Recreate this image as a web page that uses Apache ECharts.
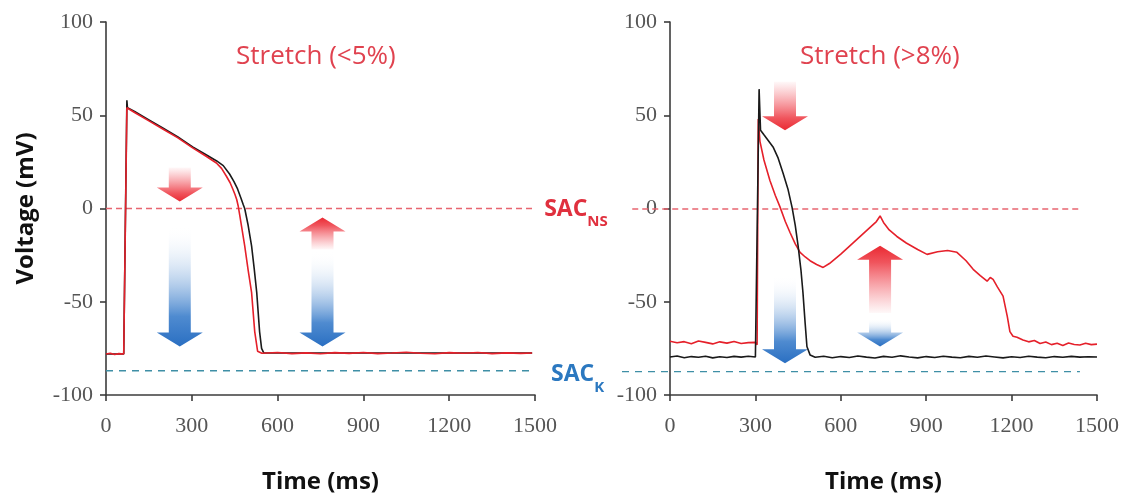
<!DOCTYPE html>
<html>
<head>
<meta charset="utf-8">
<script src="https://cdn.jsdelivr.net/npm/echarts@6/dist/echarts.min.js"></script>
<style>
html,body{margin:0;padding:0;background:#fff}
#main{width:1130px;height:499px}
</style>
</head>
<body>
<div id="main"></div>
<script>
// left panel - stretch <5%
var leftRedT = [0,15,30,45,62,73,100,150,200,250,303,350,386,404,421,434,444,451,457,462,468,474,485,497,509,520,530,545,600,650,700,750,800,850,900,950,1000,1050,1100,1150,1200,1250,1300,1350,1400,1450,1490];
var leftRedV = [-78,-77.6,-78.3,-77.8,-78,54,51.5,47,42.5,38,32.5,28,24.4,21.5,17.3,13.8,10.2,7.5,4.8,1.5,-4,-9.6,-20,-33,-45,-66,-76.5,-77.6,-77.2,-77.8,-77.4,-77.9,-77.3,-77.7,-77.2,-77.8,-77.5,-77.1,-77.6,-77.9,-77.3,-77.6,-77.2,-77.8,-77.4,-77.7,-77.5];
var leftBlackT = [0,30,62,73,75,100,150,200,250,303,350,387,410,432,447,460,472,480,485,497,509,518,527,537,544,552,650,800,950,1100,1250,1400,1490];
var leftBlackV = [-78,-78,-78,58,54,52,47.5,43,38.5,33,28.8,25.5,23,18.5,14.5,10.5,5.5,2,0,-9,-20,-32,-45,-66,-75,-77.5,-77.5,-77.5,-77.5,-77.5,-77.5,-77.5,-77.5];

// right panel - stretch >8%
var rightRedT = [0,25,50,75,100,125,150,175,200,225,250,275,300,306,310,316,330,351,370,386,405,422,440,457,475,492,515,538,560,600,650,700,725,738,750,770,797,830,870,903,940,975,1008,1040,1065,1090,1114,1125,1135,1150,1170,1185,1194,1205,1219,1240,1260,1280,1300,1320,1340,1360,1380,1400,1420,1440,1460,1480,1500];
var rightRedV = [-71.2,-72.0,-71.4,-72.5,-71.0,-71.8,-72.6,-71.5,-72.2,-71.3,-72.4,-71.9,-71.8,-73.0,48,36,26,15,7,1,-7,-13,-19,-23.5,-26,-28,-30,-31.6,-29.5,-24.5,-17.5,-10.5,-7,-4,-7.5,-11.5,-15,-18.5,-22,-24.6,-23.2,-22.5,-23.5,-28,-32.6,-36,-39,-37,-38,-42,-47,-58,-66,-68.5,-69,-70.5,-71.5,-70.8,-72.4,-71.6,-73,-72.2,-73.4,-72.1,-72.9,-73.2,-72.3,-73,-72.7];
var rightBlackT = [0,25,50,75,100,125,150,175,200,225,250,275,300,306,313,318,330,345,362,380,397,415,429,440,450,460,467,475,481,492,510,540,570,600,630,660,690,720,750,780,810,840,870,900,930,960,990,1020,1050,1080,1110,1140,1170,1200,1230,1260,1290,1320,1350,1380,1410,1440,1470,1500];
var rightBlackV = [-79.6,-79.1,-80.0,-79.4,-79.8,-79.2,-80.1,-79.5,-79.9,-79.3,-79.7,-79.2,-79.6,-79.8,64,42,39.5,36.5,33,27,19,10,0.5,-9,-20,-33,-45,-62,-74,-78.5,-79.8,-79.2,-80.0,-79.4,-79.9,-79.1,-79.7,-80.2,-79.3,-79.8,-79.0,-79.6,-80.1,-79.4,-79.9,-79.2,-79.7,-80.0,-79.3,-79.8,-79.1,-79.6,-80.1,-79.5,-79.9,-79.2,-79.7,-80.0,-79.4,-79.8,-79.3,-79.7,-79.5,-79.6];

// SAC reversal levels (mV) and where the dashed lines run (ms)
var sacNs = 0, sacK = -87;
var leftNsSpan = [0, 1490], leftKSpan = [0, 1500];
var rightNsSpan = [-133, 1440], rightKSpan = [-169, 1440];

// arrows: [time, tail mV, tip mV, kind 0=red 1=blue]
var leftArrows = [[258,22,3.7,0],[258,-9,-74,1],[757,-22,-4.8,0],[757,-23,-74,1]];
var rightArrows = [[404,68,42,0],[404,-36,-83,1],[738,-56,-20,0],[738,-59,-74,1]];

function zip(t, v) {
  var out = [];
  for (var i = 0; i < Math.min(t.length, v.length); i++) out.push([t[i], v[i]]);
  return out;
}

function renderArrow(params, api) {
  var x = api.value(0), tail = api.value(1), tip = api.value(2), kind = api.value(3);
  var a = api.coord([x, tail]), b = api.coord([x, tip]);
  var dir = b[1] > a[1] ? 1 : -1;
  var sw = 11, hw = 23, hl = 14;
  var neck = b[1] - dir * hl;
  var cx = a[0];
  var pts = [[cx-sw,a[1]],[cx+sw,a[1]],[cx+sw,neck],[cx+hw,neck],[cx,b[1]],[cx-hw,neck],[cx-sw,neck]];
  var col = kind === 0 ? '#ea2a33' : '#2a6fc2';
  var fade = kind === 0 ? 'rgba(245,120,130,0.05)' : 'rgba(255,255,255,0)';
  var grad = new echarts.graphic.LinearGradient(0, dir > 0 ? 0 : 1, 0, dir > 0 ? 1 : 0, [
    {offset: 0, color: fade},
    {offset: 0.75, color: kind === 0 ? '#f0555d' : '#4f8bd0'},
    {offset: 1, color: col}
  ]);
  return {type: 'polygon', shape: {points: pts}, style: {fill: grad}};
}

var axisCol = '#3c3c3c';
function xAx(idx) {
  return {
    gridIndex: idx, type: 'value', min: 0, max: 1500, interval: 300,
    name: 'Time (ms)', nameLocation: 'middle', nameGap: 75,
    nameTextStyle: {fontFamily: 'Open Sans', fontWeight: 'bold', fontSize: 24, color: '#111'},
    axisLine: {show: true, onZero: false, lineStyle: {color: axisCol, width: 1.6}},
    axisTick: {show: true, length: 6, lineStyle: {color: axisCol, width: 1.6}},
    axisLabel: {fontFamily: 'Liberation Serif', fontSize: 22, color: '#555', margin: 20,
      formatter: function (v) { return String(v); }},
    splitLine: {show: false}
  };
}
function yAx(idx, name) {
  return {
    gridIndex: idx, type: 'value', min: -100, max: 100, interval: 50,
    name: name, nameLocation: 'middle', nameGap: 68,
    nameTextStyle: {fontFamily: 'Open Sans', fontWeight: 'bold', fontSize: 24, color: '#111'},
    axisLine: {show: true, onZero: false, lineStyle: {color: axisCol, width: 1.6}},
    axisTick: {show: true, length: 6, lineStyle: {color: axisCol, width: 1.6}},
    axisLabel: {fontFamily: 'Liberation Serif', fontSize: 22, color: '#555', margin: 13},
    splitLine: {show: false}
  };
}

function refLine(idx, span, level, color, dash, label) {
  var s = {
    type: 'line', xAxisIndex: idx, yAxisIndex: idx, clip: false, silent: true,
    symbol: 'none', z: 1,
    data: [[span[0], level], [span[1], level]],
    lineStyle: {color: color, width: 1.3, type: dash}
  };
  if (label) {
    s.endLabel = {
      show: true, distance: label.dist, offset: [0, label.dy], formatter: label.text,
      rich: {
        m: {fontFamily: 'Open Sans', fontWeight: 'bold', fontSize: 23, color: label.color, lineHeight: 28},
        s: {fontFamily: 'Open Sans', fontWeight: 'bold', fontSize: 15, color: label.color, lineHeight: 16, verticalAlign: 'bottom', padding: [0, 0, -6, 0]}
      }
    };
  }
  return s;
}

function trace(idx, data, color, z) {
  return {
    type: 'line', xAxisIndex: idx, yAxisIndex: idx, symbol: 'none', z: z, silent: true,
    data: data, lineStyle: {color: color, width: 1.6}
  };
}

function arrows(idx, data) {
  return {
    type: 'custom', xAxisIndex: idx, yAxisIndex: idx, z: 2, silent: true,
    renderItem: renderArrow, encode: {x: 0, y: [1, 2]}, data: data
  };
}

var chart = echarts.init(document.getElementById('main'));
chart.setOption({
  backgroundColor: '#fff',
  animation: false,
  grid: [
    {left: 106, right: 595, top: 22, bottom: 103},
    {left: 670, right: 33, top: 22, bottom: 103},
    // same scale as the right panel, widened to the left so its dashed guides can start before the axis
    {left: 622, right: 33, top: 22, bottom: 103}
  ],
  xAxis: [xAx(0), xAx(1), {gridIndex: 2, type: 'value', min: -169, max: 1500, show: false}],
  yAxis: [yAx(0, 'Voltage (mV)'), yAx(1, ''), {gridIndex: 2, type: 'value', min: -100, max: 100, show: false}],
  graphic: [
    {type: 'text', left: 236, top: 44, style: {text: 'Stretch (<5%)', font: '26px "Open Sans"', fill: '#e0424f'}},
    {type: 'text', left: 800, top: 44, style: {text: 'Stretch (>8%)', font: '26px "Open Sans"', fill: '#e0424f'}}
  ],
  series: [
    refLine(0, leftNsSpan, sacNs, '#e86670', [6, 4], {text: '{m|SAC}{s|NS}', color: '#e0303e', dist: 12, dy: 1}),
    refLine(0, leftKSpan, sacK, '#3f8fa6', [7, 6], {text: '{m|SAC}{s|K}', color: '#2b78c0', dist: 16, dy: 4}),
    refLine(2, rightNsSpan, sacNs, '#e86670', [6, 4]),
    refLine(2, rightKSpan, sacK, '#3f8fa6', [7, 6]),
    arrows(0, leftArrows),
    arrows(1, rightArrows),
    trace(0, zip(leftBlackT, leftBlackV), '#1a1a1a', 3),
    trace(0, zip(leftRedT, leftRedV), '#e5202a', 4),
    trace(1, zip(rightBlackT, rightBlackV), '#1a1a1a', 4),
    trace(1, zip(rightRedT, rightRedV), '#e5202a', 3)
  ]
});
</script>
</body>
</html>
